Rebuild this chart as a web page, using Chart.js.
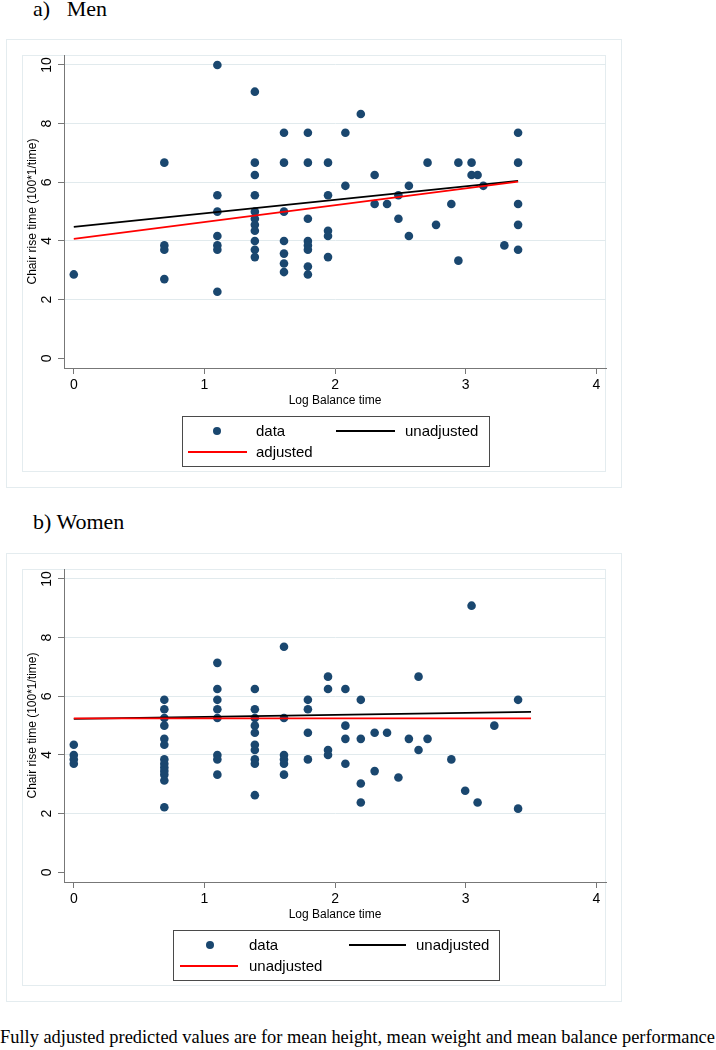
<!DOCTYPE html>
<html><head><meta charset="utf-8">
<script src="https://cdn.jsdelivr.net/npm/chart.js@4.4.0/dist/chart.umd.min.js"></script>
<style>
html,body{margin:0;padding:0;background:#fff;}
#page{position:relative;width:716px;height:1050px;overflow:hidden;font-family:"Liberation Sans",Arial,sans-serif;}
.ttl{position:absolute;font-family:"Liberation Serif","Times New Roman",serif;font-size:22px;line-height:25px;color:#000;white-space:nowrap;}
.frame{position:absolute;box-sizing:border-box;border:1px solid #e4ecef;}
canvas{position:absolute;left:0;}
.leg{position:absolute;box-sizing:border-box;border:1px solid #4a4a4a;}
.lt{position:absolute;font-size:15px;line-height:20px;color:#000;white-space:nowrap;}
.ll{position:absolute;height:2px;}
.ld{position:absolute;width:8px;height:8px;border-radius:50%;background:#1a476f;}
.cap{position:absolute;left:0;top:1027px;font-family:"Liberation Serif","Times New Roman",serif;font-size:18.4px;line-height:21px;color:#000;white-space:nowrap;}
</style></head>
<body><div id="page">
<div class="ttl" style="left:33px;top:-4px;">a)</div>
<div class="ttl" style="left:66.7px;top:-4px;">Men</div>
<div class="frame" style="left:6px;top:39px;width:616px;height:449px;"></div>
<div class="frame" style="left:22px;top:55px;width:584px;height:417px;"></div>
<canvas id="men" width="716" height="500" style="top:0px;"></canvas>
<div class="leg" style="left:182px;top:416px;width:308px;height:51px;"></div>
<div class="ld" style="left:213px;top:427px;"></div>
<div class="lt" style="left:256px;top:421px;">data</div>
<div class="ll" style="left:336px;top:430px;width:59px;background:#000;"></div>
<div class="lt" style="left:405px;top:421px;">unadjusted</div>
<div class="ll" style="left:188px;top:451px;width:59px;background:#ff0000;"></div>
<div class="lt" style="left:256px;top:442px;">adjusted</div>

<div class="ttl" style="left:33px;top:509px;">b) Women</div>
<div class="frame" style="left:6px;top:553px;width:616px;height:449px;"></div>
<div class="frame" style="left:22px;top:569px;width:584px;height:417px;"></div>
<canvas id="women" width="716" height="500" style="top:514px;"></canvas>
<div class="leg" style="left:173px;top:930px;width:327px;height:51px;"></div>
<div class="ld" style="left:206px;top:941px;"></div>
<div class="lt" style="left:249px;top:935px;">data</div>
<div class="ll" style="left:349px;top:944px;width:57px;background:#000;"></div>
<div class="lt" style="left:416px;top:935px;">unadjusted</div>
<div class="ll" style="left:180px;top:965px;width:58px;background:#ff0000;"></div>
<div class="lt" style="left:249px;top:956px;">unadjusted</div>

<div class="cap">Fully adjusted predicted values are for mean height, mean weight and mean balance performance</div>
</div>
<script>
// Tick labels
const xTickValues = [0, 1, 2, 3, 4];
const xTickLabels = ['0', '1', '2', '3', '4'];
const yTickValues = [0, 2, 4, 6, 8, 10];
const yTickLabels = ['0', '2', '4', '6', '8', '10'];

// Men: log balance time and chair rise (100*1/time)
const menLogBalance = [
  0,
  0.693, 0.693, 0.693, 0.693,
  1.099, 1.099, 1.099, 1.099, 1.099, 1.099, 1.099,
  1.386, 1.386, 1.386, 1.386, 1.386, 1.386, 1.386, 1.386, 1.386, 1.386, 1.386,
  1.609, 1.609, 1.609, 1.609, 1.609, 1.609, 1.609,
  1.792, 1.792, 1.792, 1.792, 1.792, 1.792, 1.792, 1.792,
  1.946, 1.946, 1.946, 1.946, 1.946,
  2.079, 2.079,
  2.197,
  2.303, 2.303,
  2.398,
  2.485, 2.485,
  2.565, 2.565,
  2.708,
  2.773,
  2.890,
  2.944, 2.944,
  3.045, 3.045,
  3.091,
  3.135,
  3.296,
  3.401, 3.401, 3.401, 3.401, 3.401
];
const menChairRise = [
  2.86,
  6.67, 3.85, 3.70, 2.70,
  10.0, 5.56, 5.00, 4.17, 3.85, 3.70, 2.27,
  9.09, 6.67, 6.25, 5.56, 5.00, 4.76, 4.55, 4.35, 4.00, 3.70, 3.45,
  7.69, 6.67, 5.00, 4.00, 3.57, 3.23, 2.94,
  7.69, 6.67, 4.76, 4.00, 3.85, 3.70, 3.13, 2.86,
  6.67, 5.56, 4.35, 4.17, 3.45,
  7.69, 5.88,
  8.33,
  6.25, 5.26,
  5.26,
  5.56, 4.76,
  5.88, 4.17,
  6.67,
  4.55,
  5.26,
  6.67, 3.33,
  6.67, 6.25,
  6.25,
  5.88,
  3.85,
  7.69, 6.67, 5.26, 4.55, 3.70
];
const menLineX = [0, 3.401];
const menUnadjusted = [4.48, 6.05];
const menAdjusted = [4.07, 6.02];

// Women
const womenLogBalance = [
  0, 0, 0, 0,
  0.693, 0.693, 0.693, 0.693, 0.693, 0.693, 0.693, 0.693, 0.693, 0.693, 0.693, 0.693, 0.693,
  1.099, 1.099, 1.099, 1.099, 1.099, 1.099, 1.099, 1.099,
  1.386, 1.386, 1.386, 1.386, 1.386, 1.386, 1.386, 1.386, 1.386, 1.386,
  1.609, 1.609, 1.609, 1.609, 1.609, 1.609,
  1.792, 1.792, 1.792, 1.792,
  1.946, 1.946, 1.946, 1.946,
  2.079, 2.079, 2.079, 2.079,
  2.197, 2.197, 2.197, 2.197,
  2.303, 2.303,
  2.398,
  2.485,
  2.565,
  2.639, 2.639,
  2.708,
  2.890,
  2.996,
  3.045,
  3.091,
  3.219,
  3.401, 3.401
];
const womenChairRise = [
  4.35, 4.00, 3.85, 3.70,
  5.88, 5.56, 5.26, 5.00, 4.55, 4.35, 3.85, 3.70, 3.57, 3.45, 3.33, 3.13, 2.22,
  7.14, 6.25, 5.88, 5.56, 5.26, 4.00, 3.85, 3.33,
  6.25, 5.56, 5.26, 5.00, 4.76, 4.35, 4.17, 3.85, 3.70, 2.63,
  7.69, 5.26, 4.00, 3.85, 3.70, 3.33,
  5.88, 5.56, 4.76, 3.85,
  6.67, 6.25, 4.17, 4.00,
  6.25, 5.00, 4.55, 3.70,
  5.88, 4.55, 3.03, 2.38,
  4.76, 3.45,
  4.76,
  3.23,
  4.55,
  6.67, 4.17,
  4.55,
  3.85,
  2.78,
  9.09,
  2.38,
  5.00,
  5.88, 2.17
];
const womenLineX = [0, 3.5];
const womenUnadjusted = [5.23, 5.47];
const womenAdjusted = [5.25, 5.25];

const FONT = 'Liberation Sans, Arial, sans-serif';

function makeChart(id, xs, ys, lx, unadj, adj) {
  const pts = xs.map((x, i) => ({x: x, y: ys[i]}));
  const l1 = lx.map((x, i) => ({x: x, y: unadj[i]}));
  const l2 = lx.map((x, i) => ({x: x, y: adj[i]}));
  return new Chart(document.getElementById(id), {
    type: 'scatter',
    data: {datasets: [
      {label: 'data', data: pts, backgroundColor: '#1a476f', borderColor: '#1a476f', borderWidth: 0, pointRadius: 4.3, order: 2},
      {label: 'unadjusted', data: l1, showLine: true, borderColor: '#000000', borderWidth: 1.8, pointRadius: 0, fill: false, order: 1},
      {label: 'adjusted', data: l2, showLine: true, borderColor: '#ff0000', borderWidth: 1.8, pointRadius: 0, fill: false, order: 0}
    ]},
    options: {
      responsive: false, animation: false, devicePixelRatio: 1, events: [],
      layout: {padding: {left: 0, top: 55, right: 110, bottom: 92}},
      plugins: {legend: {display: false}, tooltip: {enabled: false}},
      scales: {
        x: {
          type: 'linear', position: 'bottom', min: -0.075, max: 4.074, bounds: 'data',
          afterBuildTicks: s => { s.ticks = xTickValues.map(v => ({value: v})); },
          afterFit: s => { s.height = 40; },
          grid: {drawOnChartArea: false, drawTicks: true, tickLength: 6, tickColor: '#777', tickWidth: 1},
          border: {display: true, color: '#777', width: 1},
          ticks: {font: {family: FONT, size: 14}, color: '#000', padding: 3, maxRotation: 0, autoSkip: false,
                  callback: (v, i) => xTickLabels[i]},
          title: {display: true, text: 'Log Balance time', font: {family: FONT, size: 12}, color: '#000', padding: 0}
        },
        y: {
          type: 'linear', position: 'left', min: -0.33, max: 10.34, bounds: 'data',
          afterBuildTicks: s => { s.ticks = yTickValues.map(v => ({value: v})); },
          afterFit: s => { s.width = 64; },
          grid: {color: c => (c.tick && c.tick.value === 0) ? 'rgba(0,0,0,0)' : '#e1eaed',
                 drawTicks: true, tickLength: 6, tickColor: '#777', tickWidth: 1},
          border: {display: true, color: '#777', width: 1},
          ticks: {font: {family: FONT, size: 14}, color: '#000', padding: 3.5, minRotation: 90, maxRotation: 90,
                  crossAlign: 'center', autoSkip: false, callback: (v, i) => yTickLabels[i]},
          title: {display: true, text: 'Chair rise time (100*1/time)', font: {family: FONT, size: 12}, color: '#000',
                  padding: {top: 25, bottom: 0}}
        }
      }
    }
  });
}

makeChart('men', menLogBalance, menChairRise, menLineX, menUnadjusted, menAdjusted);
makeChart('women', womenLogBalance, womenChairRise, womenLineX, womenUnadjusted, womenAdjusted);
</script>
</body></html>
